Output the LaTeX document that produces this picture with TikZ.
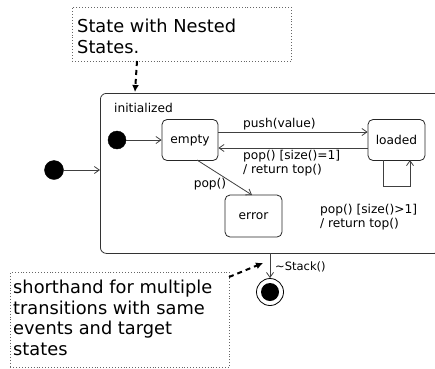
\documentclass[tikz,border=0pt]{standalone}
\usepackage{fontspec}
\setmainfont{DejaVu Sans}
\usetikzlibrary{arrows.meta}
\begin{document}
\begin{tikzpicture}[x=1pt,y=-1pt,
  lbl/.style={font=\fontsize{12.2}{14.5}\selectfont, inner sep=0pt, align=left},
  st/.style={draw=black!85, rounded corners=5pt, line width=0.8pt, minimum width=56pt, minimum height=41pt, font=\fontsize{12.2}{14.5}\selectfont, inner sep=0pt},
  note/.style={draw=black!60, dotted, line width=0.9pt, inner sep=0pt},
  notetext/.style={font=\fontsize{17.8}{20.5}\selectfont, align=left, anchor=north west, inner sep=0pt},
  trans/.style={draw=black!75, line width=0.8pt, -{Straight Barb[length=5pt,width=7pt]}},
  notelink/.style={line width=2pt, dash pattern=on 5pt off 4pt, -{Latex[length=7pt,width=7pt]}},
  initdot/.style={circle, fill=black, draw=black, inner sep=0pt, minimum size=#1}
]
\useasboundingbox (0,0) rectangle (435,368);
% notes
\node[note, minimum width=219pt, minimum height=54pt, anchor=north west] (topnote) at (72,7) {};
\node[notetext] (topnotetext) at (77,19) {State with Nested\\States.};
\node[note, minimum width=219pt, minimum height=95pt, anchor=north west] (botnote) at (10,272) {};
\node[notetext] (botnotetext) at (13,280) {shorthand for multiple\\transitions with same\\events and target\\states};
% main composite state
\node[draw=black!80, rounded corners=6pt, line width=0.8pt, minimum width=340pt, minimum height=160pt, anchor=north west, inner sep=0pt] (main) at (100,93) {};
\node[lbl, anchor=base west] (mainlbl) at (114,112) {initialized};
% initial states
\node[initdot=19pt] (init) at (54,170) {};
\node[initdot=18pt] (init2) at (117,140) {};
% states
\node[st] (empty) at (190,140) {empty};
\node[st, minimum width=57pt] (loaded) at (396.5,140) {loaded};
\node[st, minimum width=57pt, minimum height=42pt] (error) at (253.5,216) {error};
% final state
\node[circle, draw=black, line width=0.8pt, minimum size=27pt, inner sep=0pt] (final) at (270,292) {};
\node[circle, fill=black, minimum size=18pt, inner sep=0pt] (finalin) at (final) {};
% transitions
\draw[trans] (init) -- (init -| main.west);
\draw[trans] (init2) -- (empty);
\draw[trans] ([yshift=8pt]empty.east) -- ([yshift=8pt]loaded.west);
\node[lbl, anchor=base west] (pushlbl) at (243,127) {push(value)};
\draw[trans] ([yshift=-8pt]loaded.west) -- ([yshift=-8pt]empty.east);
\node[lbl, anchor=north west] (poplbl1) at (243,150) {pop() [size()=1]\\/ return top()};
\coordinate (e1) at (197,160);
\coordinate (e2) at (252,195);
\draw[trans] (e1) -- (e2);
\node[lbl, anchor=center] (poplbl) at (210,184) {pop()};
\coordinate (l1) at (383,160);
\coordinate (l2) at (383,186);
\coordinate (l3) at (410,186);
\coordinate (l4) at (410,160);
\draw[trans] (l1) -- (l2) -- (l3) -- (l4);
\node[lbl, anchor=north west] (looplbl) at (320,204) {pop() [size()>1]\\/ return top()};
\coordinate (m1) at (270,253);
\draw[trans] (m1) -- (final.north);
\node[lbl, anchor=west, font=\fontsize{11.5}{13}\selectfont] (stacklbl) at (275,267) {\char"007EStack()};
% note links
\coordinate (n1) at (137,61);
\coordinate (n2) at (135,92);
\draw[notelink] (n1) -- (n2);
\coordinate (b1) at (229,277);
\coordinate (b2) at (263,263);
\draw[notelink] (b1) -- (b2);
\end{tikzpicture}
\end{document}
